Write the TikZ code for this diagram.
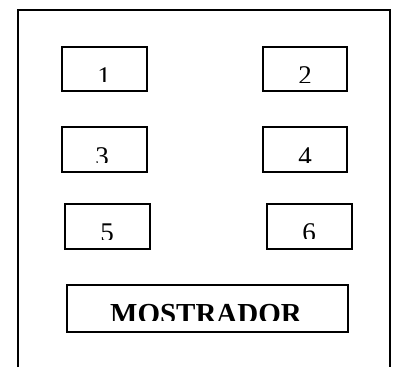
\documentclass[tikz,border=0pt]{standalone}
\usepackage{fontspec}
\setmainfont{Liberation Serif}
\begin{document}
\begin{tikzpicture}[x=1pt,y=-1pt,
  box/.style={draw,line width=1.4pt,inner sep=0pt,minimum width=85pt,minimum height=44pt},
  num/.style={font=\fontsize{27}{27}\selectfont,anchor=base,inner sep=0pt},
  big/.style={font=\fontsize{29}{29}\selectfont\bfseries,anchor=base,inner sep=0pt}]
\useasboundingbox (0,0) rectangle (395,367);
\draw[line width=2pt] (18,367) -- (18,10) -- (390,10) -- (390,367);
\node[box] (b1) at (104.5,69) {};
\node[box,minimum width=84pt] (b2) at (305,69) {};
\node[box,minimum height=45pt] (b3) at (104.5,149.5) {};
\node[box,minimum width=84pt,minimum height=45pt] (b4) at (305,149.5) {};
\node[box,minimum height=45pt] (b5) at (107.5,226.5) {};
\node[box,minimum height=45pt] (b6) at (309.5,226.5) {};
\node[box,minimum width=281pt,minimum height=47pt] (m) at (207.5,308.5) {};
\begin{scope}
\clip (62,47) rectangle (147,81);
\node[num] (t1) at (104,85) {1};
\end{scope}
\begin{scope}
\clip (263,47) rectangle (347,82);
\node[num] (t2) at (305,84) {2};
\end{scope}
\begin{scope}
\clip (62,127) rectangle (147,162);
\node[num] (t3) at (102,165) {3};
\end{scope}
\begin{scope}
\clip (263,127) rectangle (347,162);
\node[num] (t4) at (305,165) {4};
\end{scope}
\begin{scope}
\clip (65,204) rectangle (150,239);
\node[num] (t5) at (107,241) {5};
\end{scope}
\begin{scope}
\clip (267,204) rectangle (352,238);
\node[num] (t6) at (309,241) {6};
\end{scope}
\begin{scope}
\clip (67,285) rectangle (348,320);
\node[big] (tm) at (206,323) {MOSTRADOR};
\end{scope}
\end{tikzpicture}
\end{document}
